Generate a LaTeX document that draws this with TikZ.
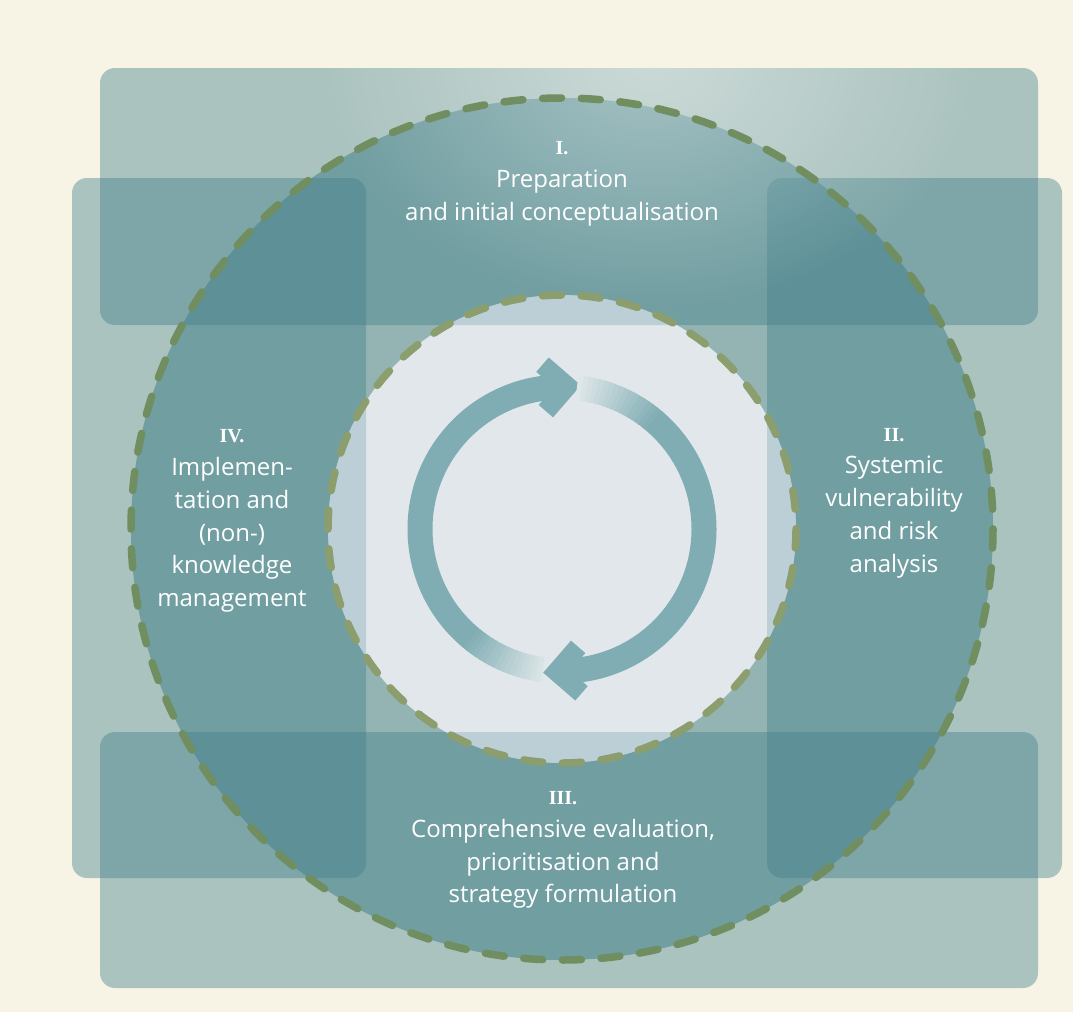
\documentclass[tikz,border=0pt]{standalone}
\usepackage{fontspec}
\setsansfont{Open Sans}
\newfontfamily\numfont{Liberation Serif}
\usetikzlibrary{fadings}
\definecolor{cream}{RGB}{247,244,230}
\definecolor{bandc}{RGB}{66,128,138}
\definecolor{diskc}{RGB}{205,220,238}
\definecolor{dashc}{RGB}{112,142,96}
\definecolor{dashlt}{RGB}{140,158,110}
\definecolor{arrowc}{RGB}{128,173,179}
\definecolor{fadec}{RGB}{222,231,233}
\tikzfading[name=glowfade, inner color=transparent!0, outer color=transparent!100]
\newcommand{\stagenum}[1]{{\numfont\bfseries\fontsize{20}{33}\selectfont #1}}

\begin{document}
\begin{tikzpicture}[x=1pt, y=-1pt,
    band/.style={fill=bandc, fill opacity=.42, rounded corners=15pt},
    ringdash/.style={line width=7.5pt, dash pattern=on 19pt off 19.69pt, line cap=round},
    lbl/.style={text=white, font=\sffamily\fontsize{24}{32.8}\selectfont, align=center}]
    \useasboundingbox (0,0) rectangle (1073,1012);
    \fill[cream] (0,0) rectangle (1073,1012);
    \coordinate (c) at (562,529);
    % ring and the four bands
    \fill[bandc, fill opacity=.55, even odd rule] (c) circle[radius=431] (c) circle[radius=234];
    \fill[band] (100,68) rectangle (1038,325);
    \fill[band] (100,732) rectangle (1038,988);
    \fill[band] (72,178) rectangle (366,878);
    \fill[band] (767,178) rectangle (1062,878);
    \begin{scope}
        \clip[rounded corners=15pt] (100,68) rectangle (1038,325);
        \fill[white, fill opacity=.38, path fading=glowfade] (650,60) ellipse[x radius=330, y radius=250];
    \end{scope}
    \fill[diskc, fill opacity=.5] (c) circle[radius=234];
    \draw[ringdash, dashc] (c) circle[radius=431];
    \draw[ringdash, dashlt] (c) circle[radius=234];
    % cycle arrows
    \foreach \a in {0,180} {
        \foreach \i in {0,...,16} {
            \pgfmathtruncatemacro\p{6*\i}
            \draw[line width=25pt, arrowc!\p!fadec] ([shift={(96+\a+2*\i:142)}]c) arc[start angle=96+\a+2*\i, end angle=98.4+\a+2*\i, radius=142];
        }
        \draw[line width=25pt, arrowc] ([shift={(130+\a:142)}]c) arc[start angle=130+\a, end angle=269+\a, radius=142];
        \draw[line width=19pt, arrowc, line join=miter] ([shift={(263.23+\a:165.48)}]c) -- ([shift={(272.17+\a:142.85)}]c) -- ([shift={(262.19+\a:118.95)}]c);
    }
    \node[lbl] (prep) at (562,184) {\stagenum{I.}\\Preparation\\and initial conceptualisation};
    \node[lbl] (risk) at (894,503) {\stagenum{II.}\\Systemic\\vulnerability\\and risk\\analysis};
    \node[lbl] (impl) at (232,521) {\stagenum{IV.}\\Implemen-\\tation and\\(non-)\\knowledge\\management};
    \node[lbl] (eval) at (563,850) {\stagenum{III.}\\Comprehensive evaluation,\\prioritisation and\\strategy formulation};
\end{tikzpicture}
\end{document}
